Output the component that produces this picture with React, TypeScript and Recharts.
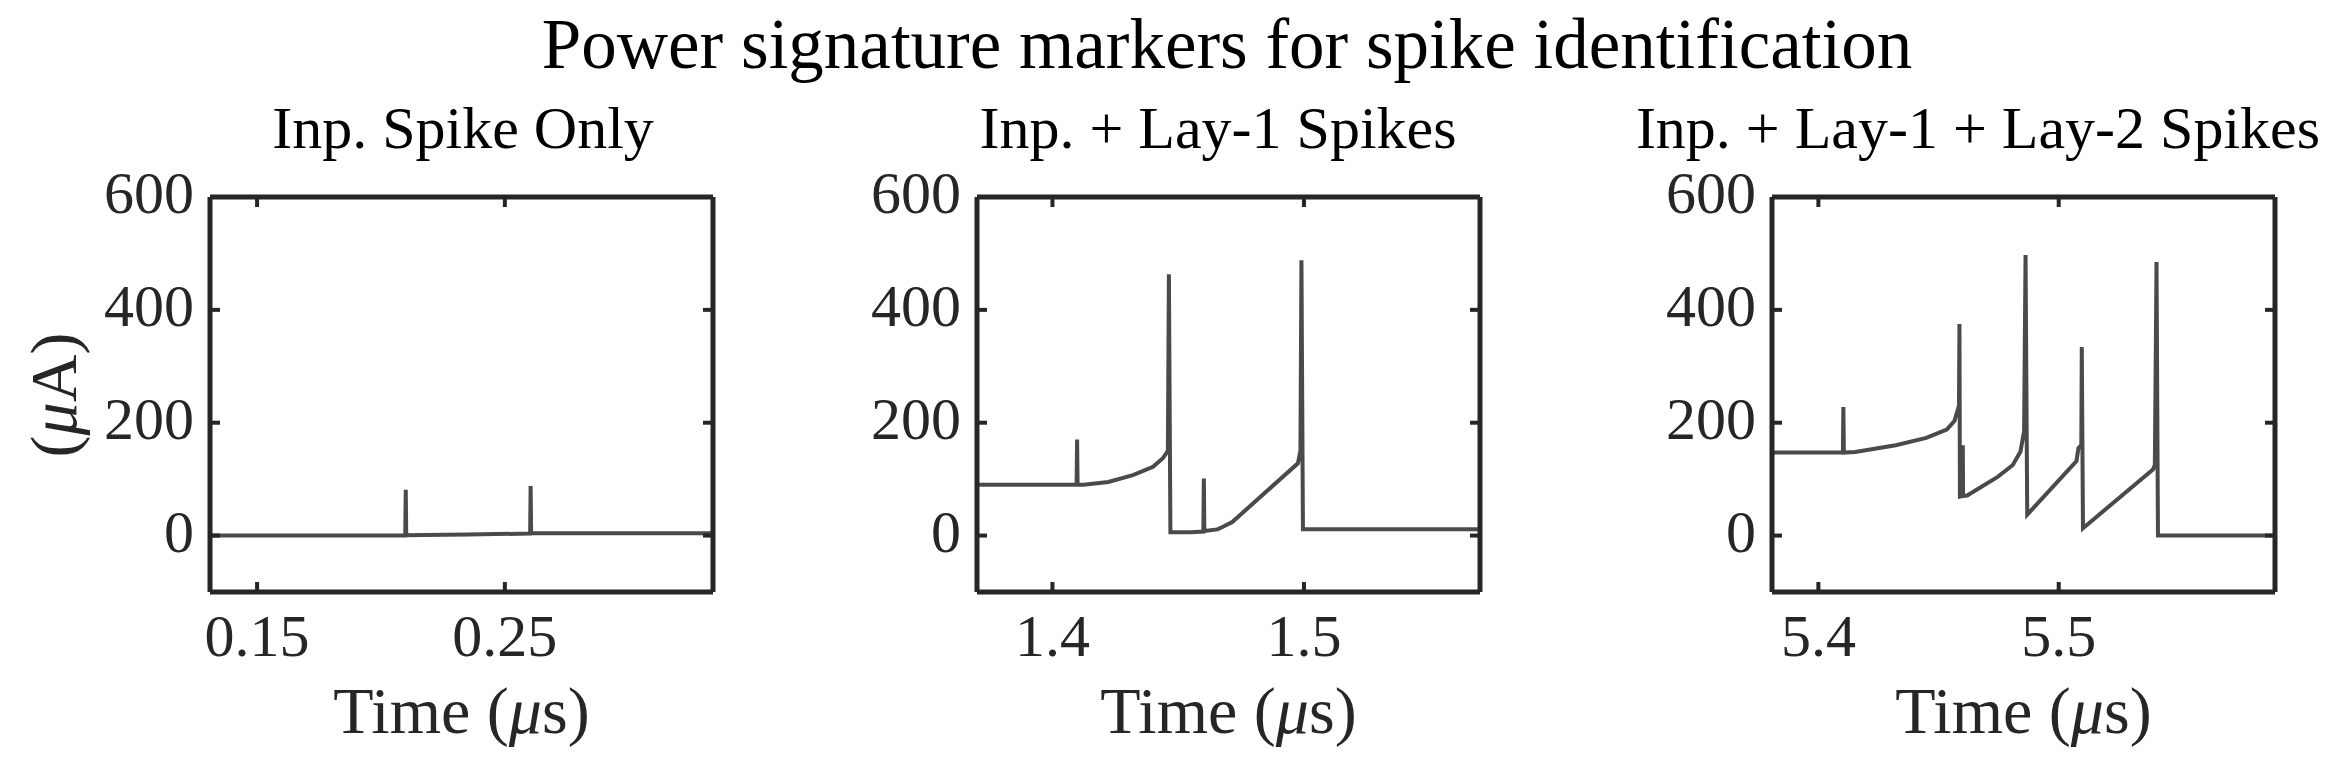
import React from "react";
import { LineChart, Line, XAxis, YAxis } from "recharts";

const FONT = '"Liberation Serif", "Times New Roman", serif';
const INK = "#262626";
const TRACE = "#4a4a4a";

const yTicks = [0, 200, 400, 600];
const yDomain: [number, number] = [-100, 600];

// panel 1: input spike only
const inpTime = [0.131, 0.2098, 0.21, 0.2102, 0.235, 0.2602, 0.2604, 0.2606, 0.334];
const inpCurrent = [0, 0, 81, 0.5, 2, 3.5, 88, 4, 4];

// panel 2: input + layer-1 spikes
const lay1Time = [
  1.37, 1.4096, 1.4098, 1.41, 1.4124, 1.4222, 1.432, 1.44, 1.4439, 1.4459, 1.4463, 1.4469,
  1.455, 1.46, 1.4602, 1.4604, 1.4656, 1.468, 1.4715, 1.4976, 1.4986, 1.499, 1.4996, 1.57
];
const lay1Current = [
  90, 90, 170, 90, 90, 95, 107, 122, 137, 150, 463, 6,
  6, 7, 101, 8, 11, 16, 24, 128, 150, 488, 11, 11
];

// panel 3: input + layer-1 + layer-2 spikes
const lay2Time = [
  5.3807, 5.4102, 5.4104, 5.4106, 5.4153, 5.4322, 5.4449, 5.4534, 5.4566, 5.4585, 5.4587,
  5.4589, 5.46, 5.4601, 5.4602, 5.4619, 5.4746, 5.4809, 5.4841, 5.4856, 5.4862, 5.4869,
  5.5074, 5.5082, 5.5094, 5.5096, 5.5101, 5.5392, 5.54, 5.5407, 5.5413, 5.59
];
const lay2Current = [
  147, 147, 228, 147, 148, 160, 173, 188, 203, 230, 375,
  69, 70, 160, 70, 71, 104, 125, 149, 185, 497, 37,
  132, 155, 160, 334, 13, 117, 125, 485, 0, 0
];

const panelTitles = ["Inp. Spike Only", "Inp. + Lay-1 Spikes", "Inp. + Lay-1 + Lay-2 Spikes"];
const xDomains: [number, number][] = [[0.131, 0.334], [1.37, 1.57], [5.3807, 5.59]];
const xTicks = [[0.15, 0.25], [1.4, 1.5], [5.4, 5.5]];

const series = [
  inpTime.map((t, i) => ({ t, v: inpCurrent[i] })),
  lay1Time.map((t, i) => ({ t, v: lay1Current[i] })),
  lay2Time.map((t, i) => ({ t, v: lay2Current[i] }))
];

// layout (pixels)
const PLOT_TOP = 197;
const PLOT_BOTTOM = 592;
const CHART_H = 764;
const Y_AXIS_W = 130;
const X_AXIS_H = 100;
const EDGE = 4; // size given to the top / right frame axes
const plotLefts = [210, 977, 1772];
const plotWidth = 503;
const subtitleX = [463, 1218, 1978];

function BottomTick(props: any) {
  const { x, y, payload } = props;
  return (
    <g>
      <line x1={x} x2={x} y1={y} y2={y - 10} stroke={INK} strokeWidth={4} />
      <text x={x} y={y + 64} textAnchor="middle" fontFamily={FONT} fontSize={60} fill={INK}>
        {String(payload.value)}
      </text>
    </g>
  );
}

function TopTick(props: any) {
  const { x, y } = props;
  return <line x1={x} x2={x} y1={y} y2={y + 10} stroke={INK} strokeWidth={4} />;
}

function LeftTick(props: any) {
  const { x, y, payload } = props;
  return (
    <g>
      <line x1={x} x2={x + 10} y1={y} y2={y} stroke={INK} strokeWidth={4} />
      <text x={x - 16} y={y + 16} textAnchor="end" fontFamily={FONT} fontSize={60} fill={INK}>
        {String(payload.value)}
      </text>
    </g>
  );
}

function RightTick(props: any) {
  const { x, y } = props;
  return <line x1={x} x2={x - 10} y1={y} y2={y} stroke={INK} strokeWidth={4} />;
}

function Panel({ idx }: { idx: number }) {
  const chartW = Y_AXIS_W + plotWidth + EDGE + 6;
  const axisLine = { stroke: INK, strokeWidth: 5 };
  return (
    <div style={{ position: "absolute", left: plotLefts[idx] - Y_AXIS_W, top: 0 }}>
      <LineChart
        width={chartW}
        height={CHART_H}
        data={series[idx]}
        margin={{ top: PLOT_TOP - EDGE, right: 6, bottom: CHART_H - PLOT_BOTTOM - X_AXIS_H, left: 0 }}
      >
        <XAxis
          xAxisId="bottom"
          dataKey="t"
          type="number"
          domain={xDomains[idx]}
          ticks={xTicks[idx]}
          interval={0}
          height={X_AXIS_H}
          tickSize={0}
          tickMargin={0}
          tickLine={false}
          axisLine={axisLine}
          tick={(p: any) => <BottomTick {...p} />}
          allowDataOverflow
        />
        <XAxis
          xAxisId="top"
          dataKey="t"
          orientation="top"
          type="number"
          domain={xDomains[idx]}
          ticks={xTicks[idx]}
          interval={0}
          height={EDGE}
          tickSize={0}
          tickMargin={0}
          tickLine={false}
          axisLine={axisLine}
          tick={(p: any) => <TopTick {...p} />}
          allowDataOverflow
        />
        <YAxis
          yAxisId="left"
          type="number"
          domain={yDomain}
          ticks={yTicks}
          interval={0}
          width={Y_AXIS_W}
          tickSize={0}
          tickMargin={0}
          tickLine={false}
          axisLine={axisLine}
          tick={(p: any) => <LeftTick {...p} />}
          allowDataOverflow
        />
        <YAxis
          yAxisId="right"
          orientation="right"
          type="number"
          domain={yDomain}
          ticks={yTicks}
          interval={0}
          width={EDGE}
          tickSize={0}
          tickMargin={0}
          tickLine={false}
          axisLine={axisLine}
          tick={(p: any) => <RightTick {...p} />}
          allowDataOverflow
        />
        <Line
          xAxisId="bottom"
          yAxisId="left"
          type="linear"
          dataKey="v"
          stroke={TRACE}
          strokeWidth={4}
          dot={false}
          activeDot={false}
          isAnimationActive={false}
        />
      </LineChart>
    </div>
  );
}

export default function App() {
  return (
    <div style={{ position: "absolute", left: 0, top: 0, width: 2337, height: 764, background: "#fff", overflow: "hidden" }}>
      {[0, 1, 2].map((i) => (
        <Panel key={i} idx={i} />
      ))}
      <svg width={2337} height={764} style={{ position: "absolute", left: 0, top: 0, pointerEvents: "none" }}>
        <text x={1227} y={68} textAnchor="middle" fontFamily={FONT} fontSize={71} fill="#000">
          Power signature markers for spike identification
        </text>
        {panelTitles.map((t, i) => (
          <text key={t} x={subtitleX[i]} y={148} textAnchor="middle" fontFamily={FONT} fontSize={60} fill="#000">
            {t}
          </text>
        ))}
        {plotLefts.map((l, i) => (
          <text key={i} x={l + plotWidth / 2} y={733} textAnchor="middle" fontFamily={FONT} fontSize={66} fill={INK}>
            Time (<tspan fontStyle="italic">μ</tspan>s)
          </text>
        ))}
        <text
          x={0}
          y={0}
          transform="translate(76 395) rotate(-90)"
          textAnchor="middle"
          fontFamily={FONT}
          fontSize={66}
          fill={INK}
        >
          (<tspan fontStyle="italic">μ</tspan>A)
        </text>
      </svg>
    </div>
  );
}
